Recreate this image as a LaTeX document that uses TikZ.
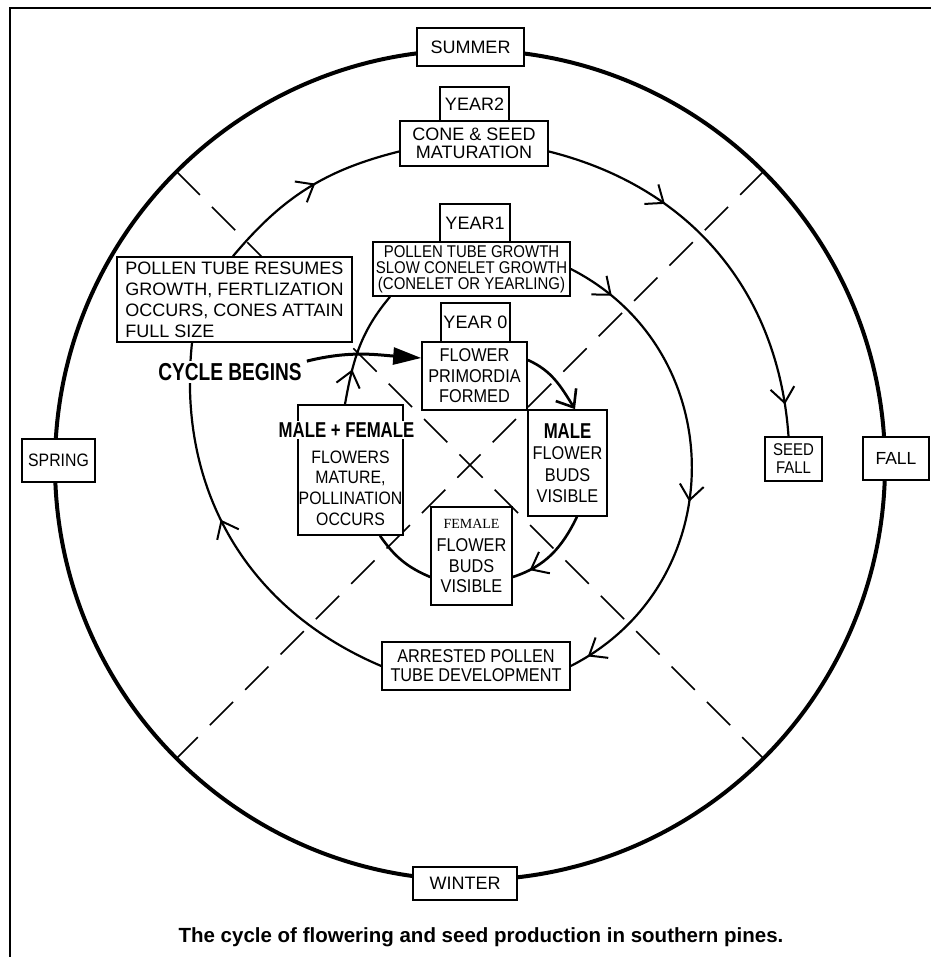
\documentclass[tikz,border=0pt]{standalone}
\usepackage{fontspec}
\setmainfont{Liberation Sans}
\newfontfamily\narrowf{Liberation Sans}[FakeStretch=0.88]
\newfontfamily\condf{Liberation Sans}[FakeStretch=0.78]
\newfontfamily\serf{Liberation Serif}
\usetikzlibrary{arrows.meta,decorations.markings,calc,backgrounds}
\newcommand\fsz[2]{\fontsize{#1}{#2}\selectfont}
\newcommand\barb{\arrow{Straight Barb[length=15pt,width=24pt,line width=2pt]}}
\begin{document}
\begin{tikzpicture}[x=1pt,y=1pt,
  box/.style={draw,fill=white,line width=1.6pt,inner sep=0pt,align=center},
  ring/.style={line width=2.2pt},
  inring/.style={line width=2.6pt},
  diag/.style={line width=1.5pt,dash pattern=on 33pt off 17pt},
  markA/.style={postaction=decorate,decoration={markings,mark=at position #1 with {\barb}}},
  markB/.style 2 args={postaction=decorate,decoration={markings,mark=at position #1 with {\barb},mark=at position #2 with {\barb}}},
  markC/.style n args={3}{postaction=decorate,decoration={markings,mark=at position #1 with {\barb},mark=at position #2 with {\barb},mark=at position #3 with {\barb}}}]
\useasboundingbox (0,0) rectangle (931,957);
\coordinate (ctr) at (470,492);
\coordinate (dnw) at ($(ctr)+(135:415)$);
\coordinate (dne) at ($(ctr)+(45:415)$);
\coordinate (dsw) at ($(ctr)+(225:415)$);
\coordinate (dse) at ($(ctr)+(-45:415)$);
\coordinate (fbl) at (10,0);
\coordinate (ftl) at (10,949);
\coordinate (ftr) at (931,949);

% boxes
\node[box,minimum width=107,minimum height=38,font=\fsz{18}{20}] (summer) at (470.5,910) {SUMMER};
\node[box,minimum width=104,minimum height=33,font=\fsz{18}{20}] (winter) at (465,73.5) {WINTER};
\node[box,minimum width=73,minimum height=43,font=\narrowf\fsz{18}{20}] (spring) at (58.5,496.5) {SPRING};
\node[box,minimum width=66,minimum height=43,font=\fsz{17.5}{20}] (fall) at (896,498.5) {FALL};
\node[box,minimum width=57,minimum height=44,font=\narrowf\fsz{17}{18}] (seedfall) at (793.5,498) {SEED\\FALL};
\node[box,minimum width=69,minimum height=34,font=\fsz{18}{20}] (year2) at (474.5,853) {YEAR2};
\node[box,minimum width=148,minimum height=45,font=\fsz{18}{18.5}] (cone) at (474,813.5) {CONE \& SEED\\MATURATION};
\node[box,minimum width=70,minimum height=38,font=\fsz{18}{20}] (year1) at (475,734) {YEAR1};
\node[box,minimum width=197,minimum height=54,font=\narrowf\fsz{17}{16}] (ptg) at (471.5,688) {POLLEN TUBE GROWTH\\SLOW CONELET GROWTH\\(CONELET OR YEARLING)};
\node[box,minimum width=69,minimum height=39,font=\fsz{18}{20}] (year0) at (475.5,634.5) {YEAR 0};
\node[box,minimum width=105,minimum height=68,font=\narrowf\fsz{18.5}{20.5}] (prim) at (474.5,581) {FLOWER\\PRIMORDIA\\FORMED};
\node[box,minimum width=79,minimum height=106,font=\narrowf\fsz{18.5}{21.5}] (male) at (567.5,494) {{\condf\bfseries\fsz{21.5}{21.5}MALE}\\FLOWER\\BUDS\\VISIBLE};
\node[box,minimum width=81,minimum height=98,font=\narrowf\fsz{18.5}{20.5}] (fem) at (471.5,401) {{\serf\fsz{14}{14}FEMALE}\\[3pt]FLOWER\\BUDS\\VISIBLE};
\node[box,minimum width=105,minimum height=130] (mf) at (350.5,487) {};
\node[fill=white,inner sep=1.5pt,font=\condf\bfseries\fsz{21.5}{22}] (mflab) at (346.5,527) {MALE + FEMALE};
\node[inner sep=0pt,align=center,font=\narrowf\fsz{18}{20.7}] (mftext) at (350.5,469) {FLOWERS\\MATURE,\\POLLINATION\\OCCURS};
\node[box,minimum width=235,minimum height=85,align=left,font=\fsz{18}{21}] (resumes) at (234.5,657.5) {POLLEN TUBE RESUMES\\GROWTH, FERTLIZATION\\OCCURS, CONES ATTAIN\\FULL SIZE};
\node[box,minimum width=188,minimum height=48,font=\narrowf\fsz{18.5}{19}] (arrested) at (476,291) {ARRESTED POLLEN\\TUBE DEVELOPMENT};
\node[fill=white,inner sep=2pt,font=\condf\bfseries\fsz{24.5}{25}] (cycle) at (230,585) {CYCLE BEGINS};
\node[font=\bfseries\fsz{20.5}{22}] (caption) at (481,20) {The cycle of flowering and seed production in southern pines.};

% cycle begins arrow
\draw[line width=3pt,-{Triangle[length=28pt,width=17pt]}] ([xshift=3pt]cycle.north east) to[out=14,in=176] ([yshift=18pt]prim.west);

\begin{scope}[on background layer]
  \draw[line width=2.2pt] (fbl) -- (ftl) -- (ftr);
  \draw[line width=4pt] (ctr) circle[radius=415];
  \draw[diag] (dnw) -- (dse);
  \draw[diag] (dne) -- (dsw);
  % year 0 ring
  \draw[inring,-{Straight Barb[length=15pt,width=24pt]}] ([yshift=16pt]prim.east) to[out=-24,in=122] ([xshift=7.5pt]male.north);
  \draw[inring,markA=0.8] ([xshift=9.5pt]male.south) to[out=-116,in=18] ([yshift=-21pt]fem.east);
  \draw[inring] ([yshift=-21pt]fem.west) to[out=157,in=-55] ([xshift=29.5pt]mf.south);
  \draw[ring,markA=0.3] ([xshift=-5.5pt]mf.north) to[out=80,in=230] ([xshift=-81.5pt]ptg.south);
  % year 1 ring
  \draw[ring,markC={0.1}{0.57}{0.96}] (ptg.east) to[out=-27,in=27,looseness=1.17] (arrested.east);
  \draw[ring,markA=0.55] (arrested.west) to[out=157,in=264] ([xshift=-42.5pt]resumes.south);
  % year 2 ring
  \draw[ring,markA=0.55] ([xshift=-1.5pt]resumes.north) to[out=50,in=194] ([yshift=-8pt]cone.west);
  \draw[ring,markB={0.32}{0.92}] ([yshift=-8pt]cone.east) to[out=-14,in=94] ([xshift=-5pt]seedfall.north);
\end{scope}
\end{tikzpicture}
\end{document}
